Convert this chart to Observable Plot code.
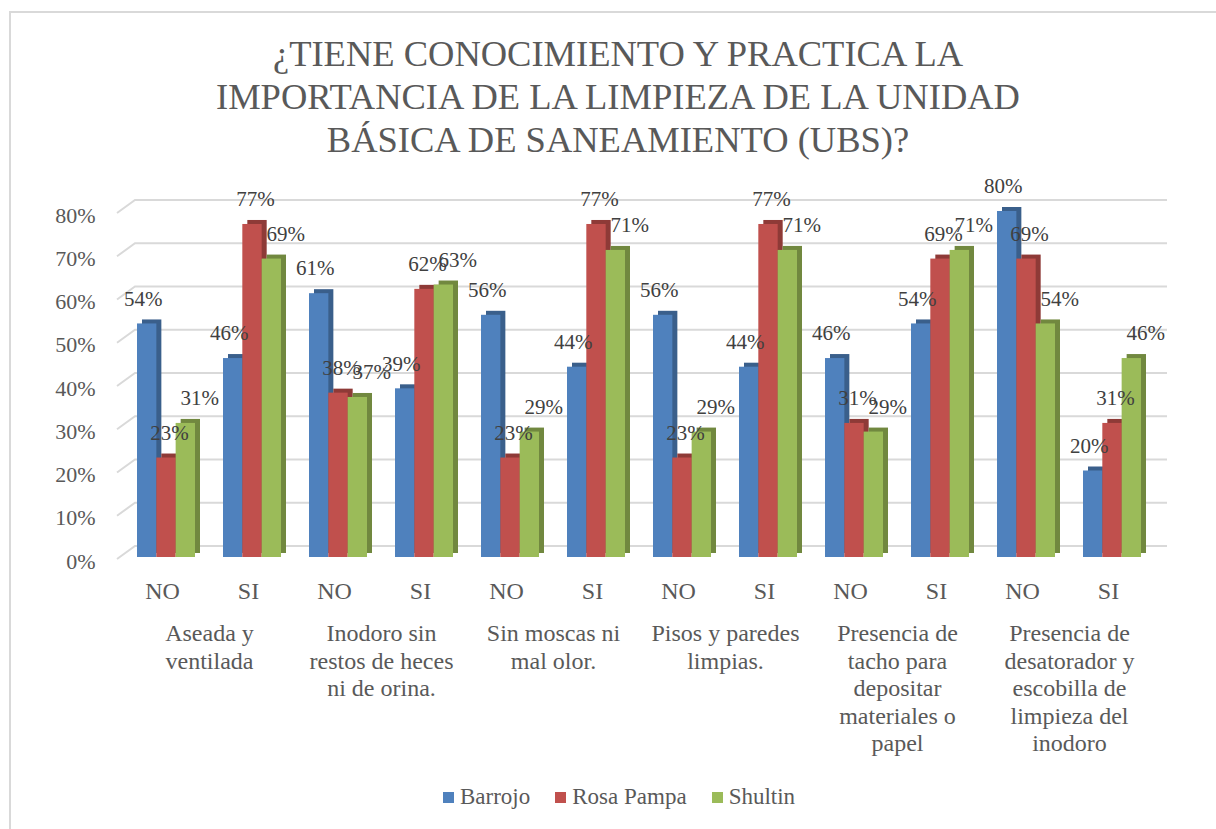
<!DOCTYPE html>
<html>
<head>
<meta charset="utf-8">
<script src="https://cdn.jsdelivr.net/npm/d3@7"></script>
<script src="https://cdn.jsdelivr.net/npm/@observablehq/plot@0.6"></script>
<style>
  html, body { margin: 0; padding: 0; background: #fff; overflow: hidden; }
  #root { position: relative; width: 1216px; height: 829px; overflow: hidden; font-family: "Times New Roman", "Liberation Serif", "DejaVu Serif", serif; color: #595959; }
  #frame { position: absolute; left: 9px; top: 11px; width: 1300px; height: 900px; border-left: 2px solid #d9d9d9; border-top: 2px solid #d9d9d9; }
  #title { position: absolute; left: 18px; width: 1200px; top: 32px; text-align: center; font-size: 36.5px; line-height: 43px; color: #595959; }
  #chart { position: absolute; left: 0; top: 160px; }
  #legend { position: absolute; left: 443px; top: 783px; display: flex; align-items: center; font-size: 23px; line-height: 28px; color: #595959; }
  #legend .item { display: flex; align-items: center; margin-right: 25px; }
  #legend .sw { width: 11px; height: 11px; margin-right: 6px; }
</style>
</head>
<body>
<div id="root">
  <div id="frame"></div>
  <div id="title">¿TIENE CONOCIMIENTO Y PRACTICA LA<br>IMPORTANCIA DE LA LIMPIEZA DE LA UNIDAD<br>BÁSICA DE SANEAMIENTO (UBS)?</div>
  <div id="chart"></div>
  <div id="legend"></div>
</div>
<script>
// ---- data ----
const groups = [
  "Aseada y\nventilada",
  "Inodoro sin\nrestos de heces\nni de orina.",
  "Sin moscas ni\nmal olor.",
  "Pisos y paredes\nlimpias.",
  "Presencia de\ntacho para\ndepositar\nmateriales o\npapel",
  "Presencia de\ndesatorador y\nescobilla de\nlimpieza del\ninodoro"
];
const answers = ["NO", "SI"];
const seriesNames = ["Barrojo", "Rosa Pampa", "Shultin"];
const barrojo   = [54, 46, 61, 39, 56, 44, 56, 44, 46, 54, 80, 20];
const rosaPampa = [23, 77, 38, 62, 23, 77, 23, 77, 31, 69, 69, 31];
const shultin   = [31, 69, 37, 63, 29, 71, 29, 71, 29, 71, 54, 46];
const yTicks = [0, 0.1, 0.2, 0.3, 0.4, 0.5, 0.6, 0.7, 0.8];

// ---- styles ----
const colors = ["#4F81BD", "#C0504D", "#9BBB59"];
const darks  = ["#3A5F8B", "#8E3A37", "#71883F"];
const labelShift = [-4, 3, 14];
const FONT = "'Times New Roman', 'Liberation Serif', 'DejaVu Serif', serif";

// ---- derived tables ----
const cats = [];
groups.forEach((g, gi) => answers.forEach(a => cats.push(`${gi}|${a}`)));
const seriesValues = [barrojo, rosaPampa, shultin];
const rowsBySeries = seriesValues.map((vals, k) =>
  cats.map((c, i) => ({cat: c, series: seriesNames[k], value: vals[i] / 100}))
);
const groupRows = groups.map((label, gi) => ({cat: `${gi}|NO`, label}));

// ---- layout ----
const W = 1216, H = 610;
const mL = 123, mR = 61, mT = 51, mB = 213;
const padIn = 0.326, padOut = 0.163;
const step = (W - mL - mR) / (cats.length - padIn + 2 * padOut);
const bw = step * (1 - padIn);
const sub = bw / 3;

const marks = [];
// back-wall gridlines with the 3D diagonal on the left side
marks.push(Plot.ruleY(yTicks, {
  y: d => d,
  render(index, scales, values, dims) {
    const g = d3.create("svg:g").attr("fill", "none").attr("stroke", "#d9d9d9").attr("stroke-width", 2);
    for (const i of index) {
      const y = values.y[i];
      g.append("path").attr("d",
        `M${dims.marginLeft - 6},${y + 2}L${dims.marginLeft + 12},${y - 11}H${dims.width - dims.marginRight + 12}`);
    }
    return g.node();
  }
}));
// 3D bars: darker extrusion behind, front face on top
rowsBySeries.forEach((rows, k) => {
  const inset = {insetLeft: k * sub, insetRight: (2 - k) * sub};
  marks.push(Plot.barY(rows, {x: "cat", y: "value", fill: darks[k], ...inset, dx: 5, dy: -4}));
  marks.push(Plot.barY(rows, {x: "cat", y: "value", fill: colors[k], ...inset}));
});
// value labels
rowsBySeries.forEach((rows, k) => {
  marks.push(Plot.text(rows, {
    x: "cat", y: "value", text: d => Math.round(d.value * 100) + "%",
    dx: (k - 1) * sub + labelShift[k], dy: -25, fontSize: 21, fill: "#404040"
  }));
});
// axes
marks.push(Plot.axisY({ticks: yTicks, tickSize: 0, tickPadding: 28, dy: 4, fontSize: 22, label: null,
  tickFormat: d => Math.round(d * 100) + "%"}));
marks.push(Plot.axisX({tickSize: 0, tickPadding: 24, dx: -4, fontSize: 24, label: null,
  tickFormat: d => d.split("|")[1]}));
// group labels centred under each NO/SI pair
marks.push(Plot.text(groupRows, {
  x: "cat", text: "label", frameAnchor: "bottom", lineAnchor: "top",
  dx: step / 2, dy: 64, fontSize: 24, lineHeight: 1.15, fill: "#595959"
}));

const chart = Plot.plot({
  width: W, height: H,
  marginLeft: mL, marginRight: mR, marginTop: mT, marginBottom: mB,
  style: {fontFamily: FONT, color: "#595959", background: "transparent", overflow: "visible"},
  x: {type: "band", domain: cats, paddingInner: padIn, paddingOuter: padOut, axis: null, label: null},
  y: {domain: [0, 0.8], axis: null, label: null},
  marks
});
document.getElementById("chart").appendChild(chart);

const legend = document.getElementById("legend");
seriesNames.forEach((name, k) => {
  const it = document.createElement("div");
  it.className = "item";
  it.innerHTML = `<span class="sw" style="background:${colors[k]}"></span><span>${name}</span>`;
  legend.appendChild(it);
});
</script>
</body>
</html>
